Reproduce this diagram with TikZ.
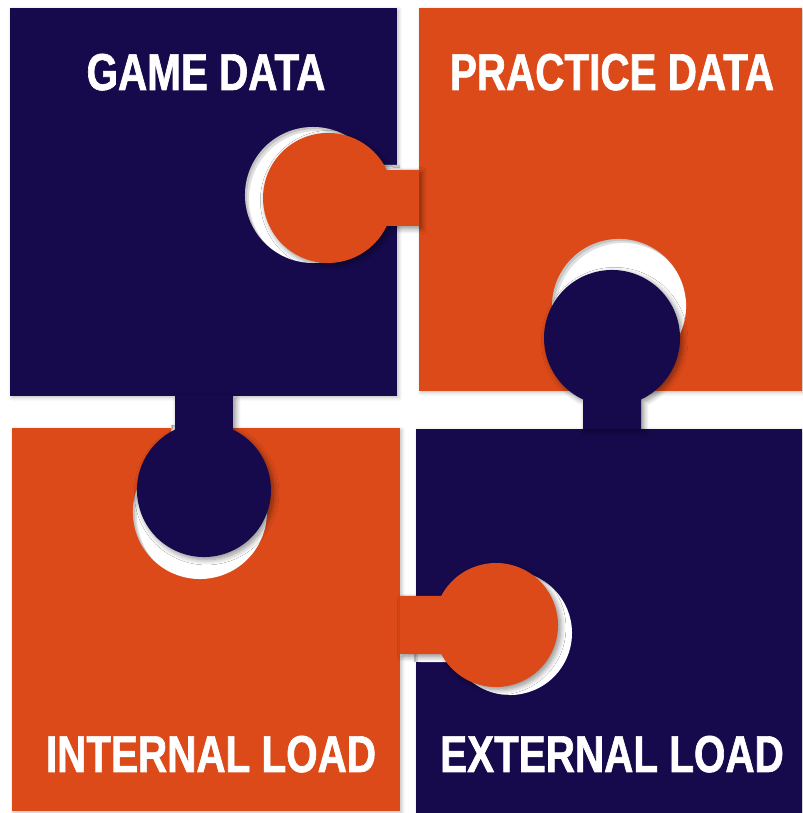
\documentclass[tikz,border=0pt]{standalone}
\usepackage{fontspec}
\usepackage{xcolor}
\usepackage{tikz}
\usetikzlibrary{shadows.blur}

\newfontfamily\puzzlefont[FakeStretch=0.78, FakeBold=1.2]{Liberation Sans}
\definecolor{puzzlenavy}{HTML}{160A4D}
\definecolor{puzzleorange}{HTML}{DD4A1A}

\begin{document}
\begin{tikzpicture}[
    x=0.02cm, y=0.02cm,
    piece/.style={blur shadow={shadow xshift=1pt, shadow yshift=-1pt, shadow blur radius=2pt, shadow opacity=25}},
    tabshape/.style={blur shadow={shadow xshift=1.5pt, shadow yshift=-1.5pt, shadow blur radius=3pt, shadow blur steps=8, shadow opacity=45}},
    inner shade/.style={fill=black, opacity=0.12, even odd rule},
    piecetitle/.style={text=white, font=\puzzlefont\bfseries\fontsize{29.5}{31}\selectfont, anchor=base},
    % cut-outs, each a circle with a neck to the piece edge
    gamehole/.style={insert path={(400,648) -- (374,648) arc[start angle=26.2, end angle=333.8, radius=68] -- (400,588) -- cycle}},
    practicehole/.style={insert path={(590,419) -- (590.1,446.6) arc[start angle=244.4, end angle=-64.4, radius=67] -- (648,419) -- cycle}},
    internalhole/.style={insert path={(229,388) -- (228.9,361.4) arc[start angle=64.4, end angle=-244.4, radius=67] -- (171,388) -- cycle}},
    externalhole/.style={insert path={(414,209) -- (455.2,209) arc[start angle=152.1, end angle=-152.1, radius=62] -- (414,151) -- cycle}}
]
\useasboundingbox (0,0) rectangle (802,813);

% the four squares
\fill[piece, puzzlenavy] (10,417) rectangle (397,805);
\fill[piece, puzzleorange] (419,422) rectangle (802,805);
\fill[piece, puzzleorange] (12,2) rectangle (400,385);
\fill[piece, puzzlenavy] (416,0) rectangle (802,384);

% holes
\foreach \h in {gamehole, practicehole, internalhole, externalhole} {
  \fill[white] (0,0) [\h];
  \begin{scope}
    \clip (0,0) [\h];
    \fill[inner shade, shift={(2,-2)}] (-20,-20) rectangle (830,830) (0,0) [\h];
    \fill[inner shade, shift={(4,-4)}] (-20,-20) rectangle (830,830) (0,0) [\h];
  \end{scope}
}

% tabs
\fill[tabshape, puzzleorange] (419,643) -- (386.7,643) arc[start angle=25.5, end angle=334.5, radius=65] -- (419,587) -- cycle;
\fill[tabshape, puzzlenavy] (233,417) -- (232.9,383.4) arc[start angle=64.4, end angle=-244.4, radius=67] -- (175,417) -- cycle;
\fill[tabshape, puzzlenavy] (583,384) -- (583,413.5) arc[start angle=244.75, end angle=-64.75, radius=68] -- (641,384) -- cycle;
\fill[tabshape, puzzleorange] (400,217) -- (441.2,217) arc[start angle=152.1, end angle=-152.1, radius=62] -- (400,159) -- cycle;

% titles
\node[piecetitle] (game) at (206,723) {GAME DATA};
\node[piecetitle] (practice) at (612,723) {PRACTICE DATA};
\node[piecetitle] (internal) at (211,41) {INTERNAL LOAD};
\node[piecetitle] (external) at (612,41) {EXTERNAL LOAD};
\end{tikzpicture}
\end{document}
